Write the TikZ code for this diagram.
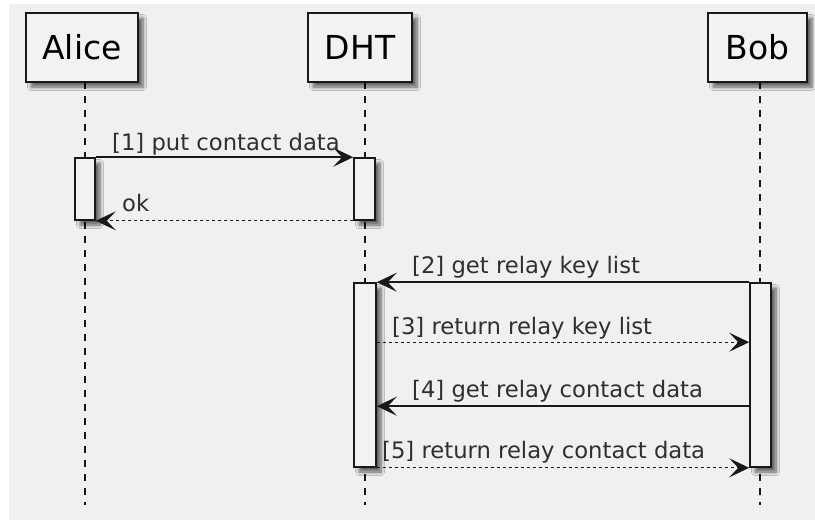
\documentclass[tikz,border=0pt]{standalone}
\usepackage{fontspec}
\setmainfont{DejaVu Sans}
\usetikzlibrary{arrows.meta,shadows.blur}
\definecolor{canvas}{HTML}{F0F0F0}
\definecolor{boxfill}{HTML}{F2F2F2}
\definecolor{ink}{HTML}{181818}
\begin{document}
\begin{tikzpicture}[x=1pt,y=-1pt,
  softshadow/.style={blur shadow={shadow xshift=5pt,shadow yshift=-5pt,
      shadow blur radius=3.5pt,shadow blur steps=8,shadow opacity=60}},
  actor/.style={draw=ink,line width=2pt,fill=boxfill,rectangle,inner sep=0pt,
      minimum height=69pt,font=\fontsize{33}{40}\selectfont,softshadow},
  activation/.style={draw=ink,line width=1.6pt,fill=boxfill,rectangle,inner sep=0pt,
      softshadow},
  lifeline/.style={draw=ink,line width=1.4pt,dash pattern=on 7pt off 7pt},
  call/.style={draw=ink,line width=1.6pt,
      -{Stealth[length=20pt,width=19pt,inset=9pt]}},
  reply/.style={call,line width=1.3pt,dash pattern=on 3pt off 3pt},
  lbl/.style={anchor=base west,inner sep=0pt,text=ink!90,
      font=\fontsize{22.7}{27}\selectfont}]

% canvas
\useasboundingbox (0,0) rectangle (815,520);
\fill[white] (0,0) rectangle (815,520);
\fill[canvas] (9,4) rectangle (815,520);

% lifelines
\coordinate (aliceTop) at (85,82);  \coordinate (aliceEnd) at (85,505);
\coordinate (dhtTop)   at (365,82); \coordinate (dhtEnd)   at (365,505);
\coordinate (bobTop)   at (760,82); \coordinate (bobEnd)   at (760,505);
\draw[lifeline] (aliceTop) -- (aliceEnd);
\draw[lifeline] (dhtTop) -- (dhtEnd);
\draw[lifeline] (bobTop) -- (bobEnd);

% participants
\node[actor,minimum width=112pt] (alice) at (82,47.5) {Alice};
\node[actor,minimum width=104pt] (dht)   at (360,47.5) {DHT};
\node[actor,minimum width=99pt]  (bob)   at (757.5,47.5) {Bob};

% activation bars
\node[activation,minimum width=20pt,minimum height=62pt]  (aAct)  at (85,189) {};
\node[activation,minimum width=21pt,minimum height=62pt]  (dAct1) at (364.5,189) {};
\node[activation,minimum width=22pt,minimum height=184pt] (dAct2) at (365,375) {};
\node[activation,minimum width=21pt,minimum height=184pt] (bAct)  at (760.5,375) {};

% messages
\draw[call]  (aAct.north east) -- (dAct1.north west);
\draw[reply] (dAct1.south west) -- (aAct.south east);
\draw[call]  (bAct.north west) -- (dAct2.north east);
\draw[reply] ([yshift=-60pt]dAct2.north east) -- ([yshift=-60pt]bAct.north west);
\draw[call]  ([yshift=-124pt]bAct.north west) -- ([yshift=-124pt]dAct2.north east);
\draw[reply] (dAct2.south east) -- (bAct.south west);

% message labels
\node[lbl] (m1) at (112,150) {[1] put contact data};
\node[lbl] (m1r) at (122,211) {ok};
\node[lbl] (m2) at (412,273) {[2] get relay key list};
\node[lbl] (m3) at (392,334) {[3] return relay key list};
\node[lbl] (m4) at (412,397) {[4] get relay contact data};
\node[lbl] (m5) at (382,458) {[5] return relay contact data};
\end{tikzpicture}
\end{document}
